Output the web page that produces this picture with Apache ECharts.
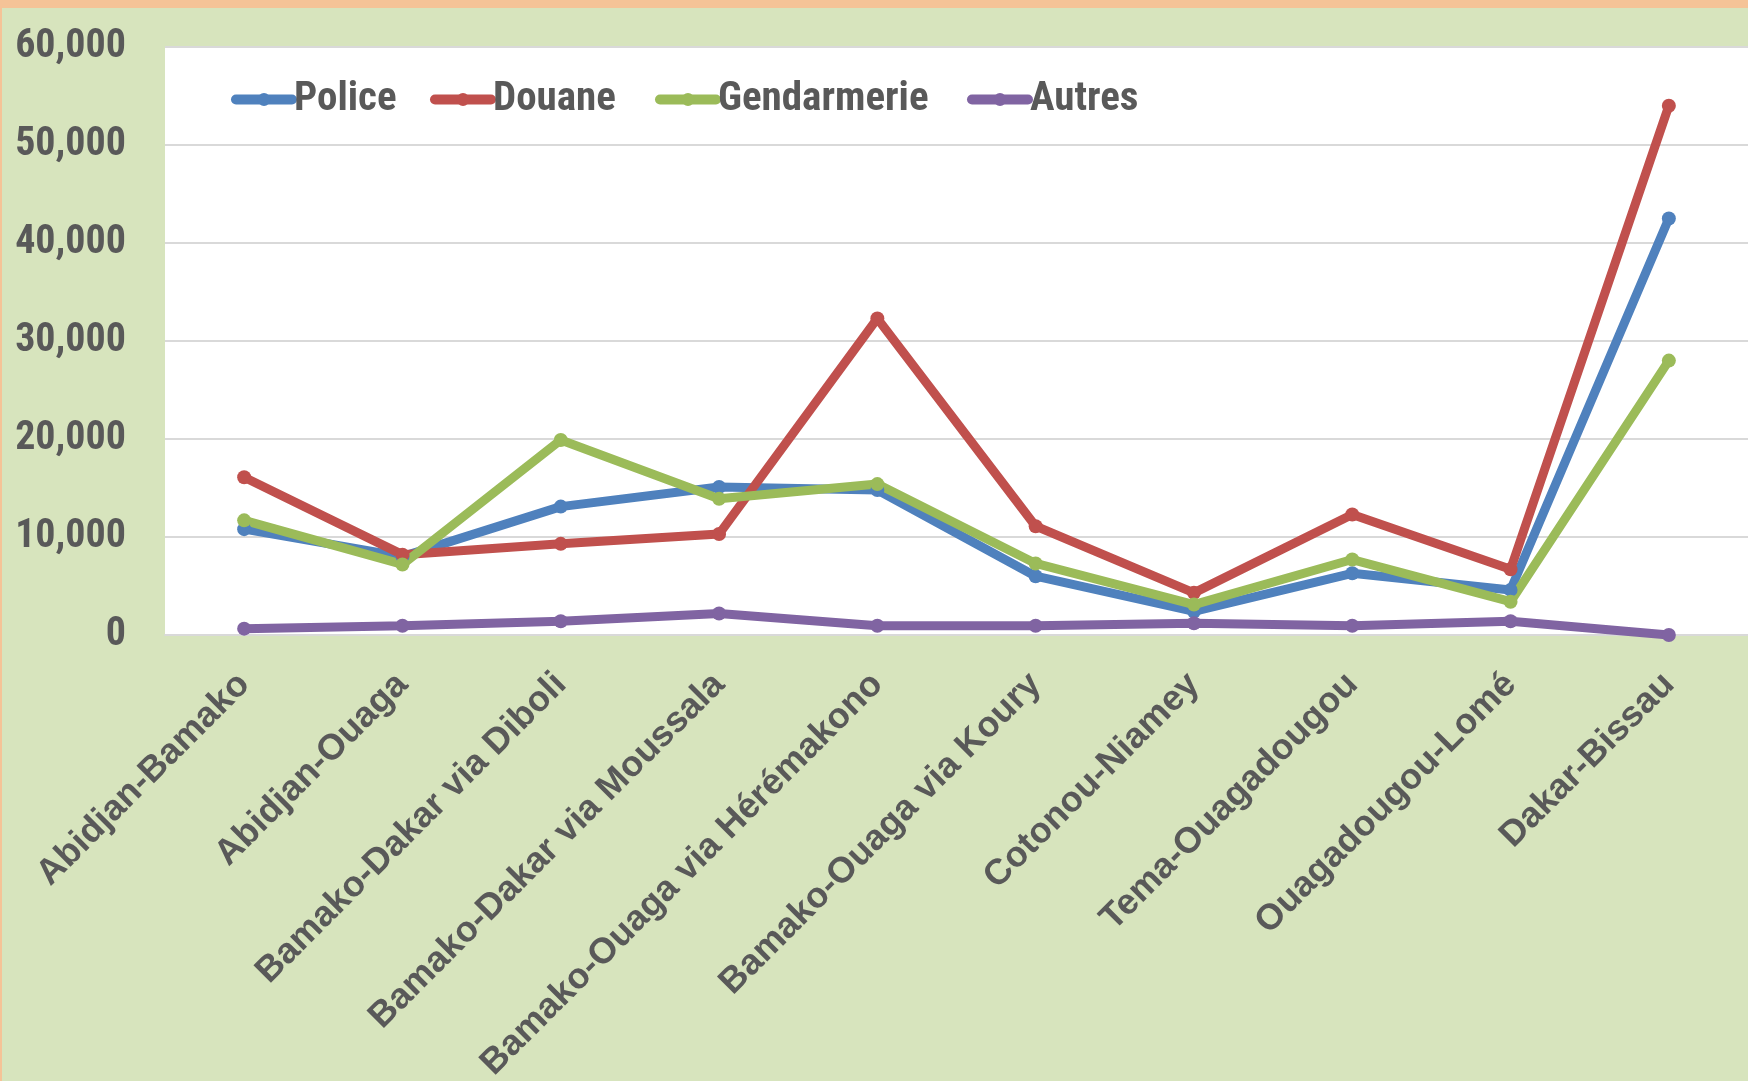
<!DOCTYPE html>
<html>
<head>
<meta charset="utf-8">
<script src="https://cdn.jsdelivr.net/npm/echarts@6/dist/echarts.min.js"></script>
<style>
  html, body { margin: 0; padding: 0; background: #D7E4BD; }
  #chart { width: 1748px; height: 1081px; }
</style>
</head>
<body>
<div id="chart"></div>
<script>
const categories = ['Abidjan-Bamako', 'Abidjan-Ouaga', 'Bamako-Dakar via Diboli', 'Bamako-Dakar via Moussala',
  'Bamako-Ouaga via Hérémakono', 'Bamako-Ouaga via Koury', 'Cotonou-Niamey', 'Tema-Ouagadougou',
  'Ouagadougou-Lomé', 'Dakar-Bissau'];
const police      = [10800, 8000, 13100, 15100, 14800, 6000, 2400, 6300, 4600, 42500];
const douane      = [16100, 8200, 9300, 10300, 32300, 11100, 4300, 12300, 6700, 54000];
const gendarmerie = [11700, 7200, 19900, 13900, 15400, 7300, 3100, 7700, 3400, 28000];
const autres      = [650, 950, 1400, 2200, 950, 950, 1200, 950, 1400, 0];
const seriesNames = ['Police', 'Douane', 'Gendarmerie', 'Autres'];
const yTicks = { min: 0, max: 60000, interval: 10000 };

const NARROW = "'Roboto Condensed', 'Open Sans Condensed', sans-serif";
const WIDE = "'Liberation Sans', Arial, sans-serif";
const TEXT = '#595959';
const colors = ['#4F81BD', '#C0504D', '#9BBB59', '#8064A2'];
const values = [police, douane, gendarmerie, autres];
const legendLeft = [231, 430, 655, 967];

const chart = echarts.init(document.getElementById('chart'), null, { renderer: 'canvas' });
chart.setOption({
  backgroundColor: '#D7E4BD',
  animation: false,
  color: colors,
  graphic: [
    { type: 'rect', left: 0, top: 0, shape: { width: 1748, height: 8 }, style: { fill: '#F5C397' }, z: 100 },
    { type: 'rect', left: 0, top: 0, shape: { width: 2, height: 1081 }, style: { fill: '#F5C397' }, z: 100 }
  ],
  legend: seriesNames.map((n, i) => ({
    data: [n],
    left: legendLeft[i],
    top: 79,
    padding: 0,
    itemWidth: 56,
    itemHeight: 16,
    itemGap: 0,
    lineStyle: { width: 10, cap: 'round' },
    textStyle: { fontFamily: NARROW, fontWeight: 'bold', fontSize: 41, color: TEXT, padding: [0, 0, 0, -3] }
  })),
  grid: { left: 165, right: 0, top: 47, bottom: 446, show: true, backgroundColor: '#FFFFFF',
          borderWidth: 0, containLabel: false, outerBoundsMode: 'none' },
  xAxis: {
    type: 'category',
    data: categories,
    boundaryGap: true,
    axisLine: { show: true, lineStyle: { color: '#D9D9D9', width: 2 } },
    axisTick: { show: false },
    axisLabel: {
      interval: 0, rotate: 45, margin: 44,
      fontFamily: WIDE, fontWeight: 'bold', fontSize: 36, color: TEXT
    }
  },
  yAxis: {
    type: 'value',
    min: yTicks.min, max: yTicks.max, interval: yTicks.interval,
    axisLine: { show: false },
    axisTick: { show: false },
    splitLine: { lineStyle: { color: '#D9D9D9', width: 2 } },
    axisLabel: {
      margin: 39,
      fontFamily: NARROW, fontWeight: 'bold', fontSize: 40, color: TEXT,
      formatter: v => v.toLocaleString('en-US')
    }
  },
  series: seriesNames.map((n, i) => ({
    name: n,
    type: 'line',
    data: values[i],
    symbol: 'circle',
    symbolSize: 14,
    lineStyle: { width: 9, color: colors[i] },
    itemStyle: { color: colors[i] }
  }))
});
</script>
</body>
</html>
